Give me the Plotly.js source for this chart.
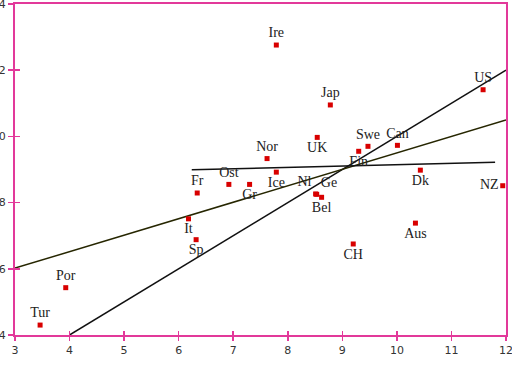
<!DOCTYPE html>
<html>
<head>
<meta charset="utf-8">
<script src="https://cdn.plot.ly/plotly-3.0.1.min.js"></script>
<style>html,body{margin:0;padding:0;background:#fff;}#chart{width:512px;height:365px;}</style>
</head>
<body>
<div id="chart"></div>
<script>
// Country data points
const countries = ["Tur","Por","It","Sp","Fr","Ost","Gr","Nor","Ice","Ire","UK","Jap","Nl","Ge","Bel","Fin","Swe","Can","Dk","US","NZ","Aus","CH"];
const xValues   = [3.46, 3.93, 6.18, 6.32, 6.34, 6.92, 7.30, 7.62, 7.79, 7.79, 8.54, 8.78, 8.51, 8.53, 8.62, 9.30, 9.47, 10.01, 10.43, 11.58, 11.94, 10.34, 9.20];
const yValues   = [4.30, 5.43, 7.51, 6.88, 8.29, 8.55, 8.55, 9.33, 8.92, 12.76, 9.97, 10.95, 8.26, 8.25, 8.16, 9.55, 9.70, 9.73, 8.98, 11.41, 8.51, 7.38, 6.75];
const labelPos  = ["top center","top center","bottom center","bottom center","top center","top center","bottom center","top center","bottom center","top center","bottom center","top center","top left","top right","bottom center","bottom center","top center","top center","bottom center","top center","middle left","bottom center","bottom center"];

// Fitted lines
const line45X = [4, 12];
const line45Y = [4, 12];
const lineMidX = [3, 12];
const lineMidY = [6.02, 10.50];
const lineFlatX = [6.24, 11.80];
const lineFlatY = [8.99, 9.22];

const xTicks = [3,4,5,6,7,8,9,10,11,12];
const yTicks = [4,6,8,10,12,14];

const axisColor = "#e2399a";

const traces = [
  {x: line45X, y: line45Y, mode: "lines", line: {color: "#111111", width: 1.5}, hoverinfo: "skip"},
  {x: lineMidX, y: lineMidY, mode: "lines", line: {color: "#262600", width: 1.5}, hoverinfo: "skip"},
  {x: lineFlatX, y: lineFlatY, mode: "lines", line: {color: "#111111", width: 1.5}, hoverinfo: "skip"},
  {x: xValues, y: yValues, text: countries, mode: "markers+text", textposition: labelPos,
   marker: {symbol: "square", size: 5, color: "#d80000"},
   textfont: {family: "Liberation Serif, serif", size: 14, color: "#222222"}},
  {x: [], y: [], xaxis: "x2", yaxis: "y2", mode: "markers", hoverinfo: "skip"}
];

const layout = {
  width: 512, height: 365,
  margin: {l: 15, r: 6, t: 4, b: 30},
  showlegend: false,
  paper_bgcolor: "#ffffff",
  plot_bgcolor: "#ffffff",
  xaxis: {
    range: [3, 12], tickvals: xTicks, ticktext: xTicks.map(String),
    showgrid: false, zeroline: false,
    showline: true, linecolor: axisColor, linewidth: 2, mirror: true,
    ticks: "outside", ticklen: 4, tickwidth: 1.5, tickcolor: axisColor,
    ticklabeloverflow: "allow",
    tickfont: {family: "DejaVu Sans, sans-serif", size: 11, color: "#333333"}
  },
  yaxis: {
    range: [4, 14], tickvals: yTicks, ticktext: yTicks.map(String),
    showgrid: false, zeroline: false,
    showline: true, linecolor: axisColor, linewidth: 2, mirror: true,
    ticks: "outside", ticklen: 5, tickwidth: 1.5, tickcolor: axisColor,
    ticklabeloverflow: "allow",
    tickfont: {family: "DejaVu Sans, sans-serif", size: 11, color: "#333333"}
  },
  xaxis2: {
    range: [3, 12], tickvals: xTicks, overlaying: "x", showticklabels: false,
    showgrid: false, zeroline: false, showline: false,
    ticks: "inside", ticklen: 4, tickwidth: 1.5, tickcolor: axisColor
  },
  yaxis2: {
    range: [4, 14], tickvals: yTicks, overlaying: "y", showticklabels: false,
    showgrid: false, zeroline: false, showline: false,
    ticks: "inside", ticklen: 5, tickwidth: 1.5, tickcolor: axisColor
  }
};

Plotly.newPlot("chart", traces, layout, {staticPlot: true, displayModeBar: false});
</script>
</body>
</html>
